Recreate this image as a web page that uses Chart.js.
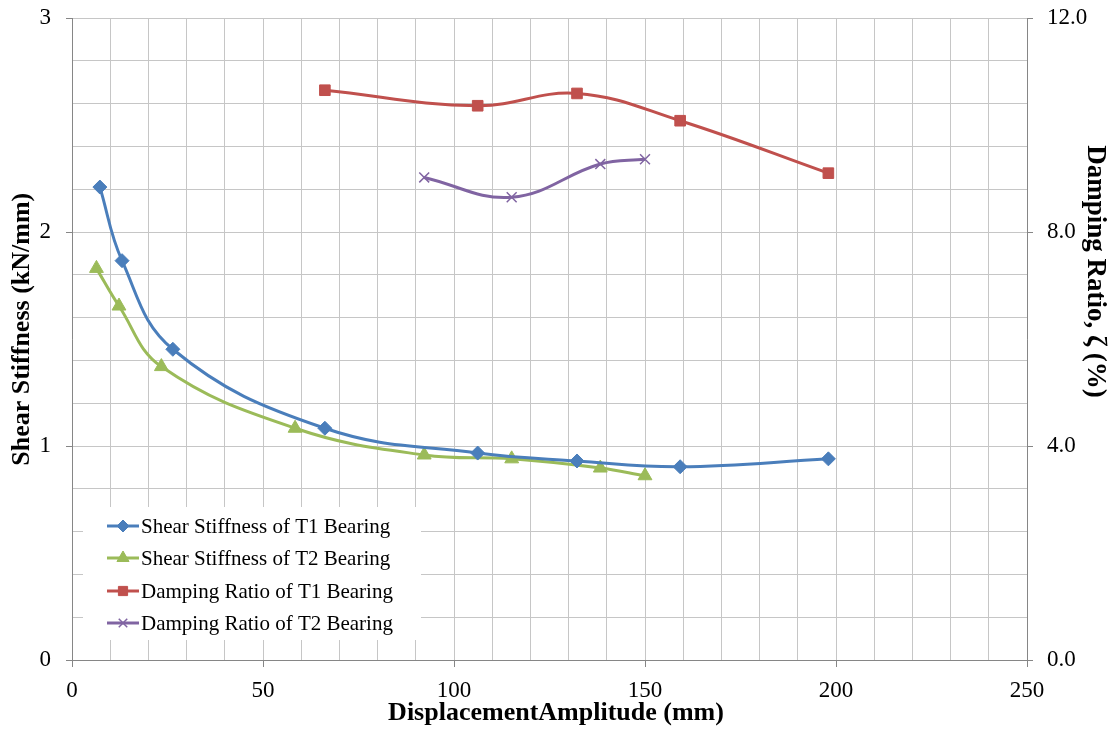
<!DOCTYPE html>
<html>
<head>
<meta charset="utf-8">
<script src="https://cdn.jsdelivr.net/npm/chart.js@4.4.1/dist/chart.umd.min.js"></script>
<style>
  html, body { margin: 0; padding: 0; background: #fff; }
  #wrap { width: 1115px; height: 731px; }
</style>
</head>
<body>
<div id="wrap"><canvas id="myChart" width="1115" height="731"></canvas></div>
<script>
// values
const amplitudeT1 = [7.3, 13.1, 26.4, 66.2, 106.2, 132.2, 159.2, 198.0];
const stiffnessT1 = [2.21, 1.866, 1.452, 1.083, 0.967, 0.930, 0.903, 0.940];
const amplitudeT2 = [6.4, 12.3, 23.4, 58.4, 92.2, 115.1, 138.3, 150.0];
const stiffnessT2 = [1.83, 1.654, 1.371, 1.083, 0.958, 0.940, 0.897, 0.861];
const dampAmpT1 = [66.2, 106.2, 132.2, 159.2, 198.0];
const dampingT1 = [10.65, 10.36, 10.59, 10.08, 9.10];
const dampAmpT2 = [92.2, 115.1, 138.3, 150.0];
const dampingT2 = [9.02, 8.65, 9.27, 9.36];

const seriesNames = [
  'Shear Stiffness of T1 Bearing',
  'Shear Stiffness of T2 Bearing',
  'Damping Ratio of T1 Bearing',
  'Damping Ratio of T2 Bearing'
];
const xTicks = [0, 50, 100, 150, 200, 250];
const yLeftTicks = [0, 1, 2, 3];
const yRightTicks = [0, 4, 8, 12];

const serif = "'Liberation Serif', 'Times New Roman', serif";
const gridGray = '#c6c6c6';
const axisGray = '#868686';

function pts(xs, ys) {
  return xs.map((x, i) => ({ x: x, y: ys[i] }));
}
function near(v, list) {
  return list.some(t => Math.abs(v - t) < 1e-6);
}

// legend drawn inside the plot, over a white box
const boxLegend = {
  id: 'boxLegend',
  afterDraw(chart) {
    const ctx = chart.ctx;
    const left = 83, top = 507, w = 338, h = 133;
    ctx.save();
    ctx.fillStyle = '#ffffff';
    ctx.fillRect(left, top, w, h);
    const rows = [526, 558, 591, 623];
    chart.data.datasets.forEach((ds, i) => {
      const y = rows[i];
      ctx.strokeStyle = ds.borderColor;
      ctx.lineWidth = 3;
      ctx.beginPath();
      ctx.moveTo(107, y);
      ctx.lineTo(139, y);
      ctx.stroke();
      ctx.fillStyle = ds.borderColor;
      ctx.strokeStyle = ds.borderColor;
      ctx.lineWidth = ds.pointBorderWidth || 1;
      Chart.helpers.drawPoint(ctx, {
        pointStyle: ds.pointStyle,
        radius: ds.pointRadius - 1,
        rotation: 0,
        borderWidth: ds.pointBorderWidth || 1
      }, 123, y);
      ctx.fillStyle = '#000';
      ctx.font = '21px ' + serif;
      ctx.textBaseline = 'middle';
      ctx.textAlign = 'left';
      ctx.fillText(ds.label, 141, y + 1);
    });
    ctx.restore();
  }
};

function fixVertical(width) {
  return s => {
    s.width = width;
    s.paddingTop = 0;
    s.paddingBottom = 0;
  };
}

const chartCtx = document.getElementById('myChart').getContext('2d');
const myChart = new Chart(chartCtx, {
  type: 'line',
  data: {
    datasets: [
      {
        label: seriesNames[0],
        data: pts(amplitudeT1, stiffnessT1),
        yAxisID: 'y',
        borderColor: '#4a7ebb',
        backgroundColor: '#4a7ebb',
        pointBackgroundColor: '#4a7ebb',
        pointStyle: 'rectRot',
        pointRadius: 7,
        pointBorderWidth: 1,
        borderWidth: 3,
        tension: 0.4
      },
      {
        label: seriesNames[1],
        data: pts(amplitudeT2, stiffnessT2),
        yAxisID: 'y',
        borderColor: '#9bbb59',
        backgroundColor: '#9bbb59',
        pointBackgroundColor: '#9bbb59',
        pointStyle: 'triangle',
        pointRadius: 8,
        pointBorderWidth: 1,
        borderWidth: 3,
        tension: 0.4
      },
      {
        label: seriesNames[2],
        data: pts(dampAmpT1, dampingT1),
        yAxisID: 'y2',
        borderColor: '#c0504d',
        backgroundColor: '#c0504d',
        pointBackgroundColor: '#c0504d',
        pointStyle: 'rect',
        pointRadius: 7.5,
        pointBorderWidth: 1,
        borderWidth: 3,
        tension: 0.4
      },
      {
        label: seriesNames[3],
        data: pts(dampAmpT2, dampingT2),
        yAxisID: 'y2',
        borderColor: '#8064a2',
        backgroundColor: '#8064a2',
        pointBackgroundColor: '#8064a2',
        pointStyle: 'crossRot',
        pointRadius: 7,
        pointBorderWidth: 1.5,
        borderWidth: 3,
        tension: 0.4
      }
    ]
  },
  options: {
    responsive: false,
    animation: false,
    layout: { padding: { top: 18, left: 0, right: 0, bottom: 0 } },
    plugins: {
      legend: { display: false },
      tooltip: { enabled: false }
    },
    scales: {
      x: {
        type: 'linear',
        min: 0,
        max: 250,
        border: { color: axisGray, width: 1 },
        grid: {
          color: gridGray,
          lineWidth: 1,
          tickLength: 7,
          tickColor: c => (c.tick && near(c.tick.value, xTicks)) ? axisGray : 'rgba(0,0,0,0)'
        },
        ticks: {
          stepSize: 10,
          autoSkip: false,
          maxRotation: 0,
          padding: 10,
          color: '#000',
          font: { family: serif, size: 23 },
          callback: v => near(v, xTicks) ? String(Math.round(v)) : ''
        },
        title: {
          display: true,
          text: '\u00a0\u00a0DisplacementAmplitude (mm)',
          color: '#000',
          font: { family: serif, size: 26, weight: 'bold' },
          padding: { top: 0, bottom: 2 }
        },
        afterFit: s => { s.height = 71; }
      },
      y: {
        type: 'linear',
        position: 'left',
        min: 0,
        max: 3,
        border: { color: axisGray, width: 1 },
        grid: {
          color: gridGray,
          lineWidth: 1,
          tickLength: 6,
          tickColor: c => (c.tick && near(c.tick.value, yLeftTicks)) ? axisGray : 'rgba(0,0,0,0)'
        },
        ticks: {
          stepSize: 0.2,
          autoSkip: false,
          padding: 15,
          color: '#000',
          font: { family: serif, size: 23 },
          callback: v => near(v, yLeftTicks) ? String(Math.round(v)) : ''
        },
        title: {
          display: true,
          text: '\u00a0\u00a0\u00a0Shear Stiffness (kN/mm)',
          color: '#000',
          font: { family: serif, size: 26, weight: 'bold' },
          padding: { top: 7, bottom: 0 }
        },
        afterFit: fixVertical(72)
      },
      y2: {
        type: 'linear',
        position: 'right',
        min: 0,
        max: 12,
        border: { color: axisGray, width: 1 },
        grid: {
          drawOnChartArea: false,
          tickLength: 6,
          tickColor: axisGray
        },
        ticks: {
          stepSize: 4,
          padding: 14,
          color: '#000',
          font: { family: serif, size: 23 },
          callback: v => v.toFixed(1)
        },
        title: {
          display: true,
          text: 'Damping Ratio, \u03b6 (%)' + '\u00a0'.repeat(20),
          color: '#000',
          font: { family: serif, size: 27, weight: 'bold' },
          padding: { top: 4, bottom: 0 }
        },
        afterFit: fixVertical(88)
      }
    }
  },
  plugins: [boxLegend]
});
</script>
</body>
</html>
